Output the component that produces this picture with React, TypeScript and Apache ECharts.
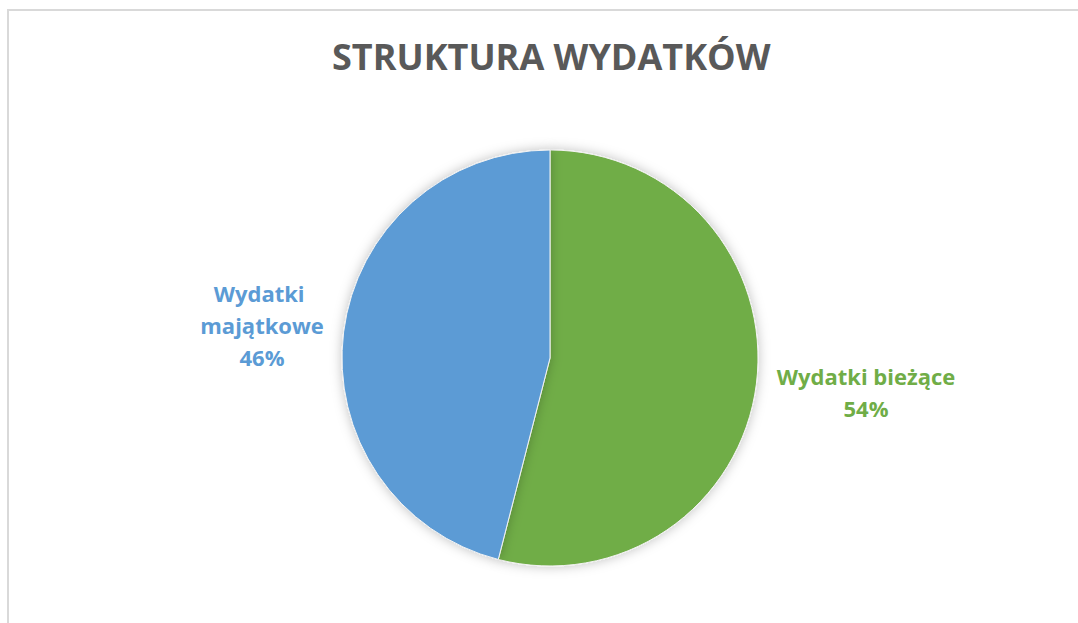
import React, { useEffect, useRef } from "react";
import * as echarts from "echarts";

const titleText = "STRUKTURA WYDATKÓW";
const categories = ["Wydatki bieżące", "Wydatki majątkowe"];
const values = [54, 46];
const colors = ["#70ad47", "#5b9bd5"];
const labelWidths = [230, 150];
const labelCenters = [[866, 392], [262, 325]];

export default function App() {
  const ref = useRef<HTMLDivElement>(null);
  useEffect(() => {
    if (!ref.current) return;
    const chart = echarts.init(ref.current, undefined, { renderer: "svg" });
    chart.setOption({
      animation: false,
      backgroundColor: "#ffffff",
      title: {
        text: titleText,
        left: 327,
        top: 33,
        textStyle: {
          fontFamily: "Open Sans",
          fontWeight: "bold",
          fontSize: 36,
          color: "#595959",
        },
      },
      graphic: [
        {
          type: "rect",
          shape: { x: 8, y: 10, width: 1200, height: 800 },
          style: { fill: "none", stroke: "#d9d9d9", lineWidth: 2 },
          silent: true,
        },
      ],
      series: [
        {
          type: "pie",
          center: [550, 358],
          radius: [0, 208],
          startAngle: 90,
          clockwise: true,
          itemStyle: {
            borderColor: "#f2f2f2",
            borderWidth: 1,
            shadowBlur: 12,
            shadowColor: "rgba(0,0,0,0.25)",
          },
          label: {
            show: true,
            position: "outside",
            fontFamily: "Open Sans",
            fontWeight: "bold",
            fontSize: 22,
            lineHeight: 32,
            align: "center",
            formatter: (p: any) => `${p.name}\n${Math.round(p.percent)}%`,
          },
          labelLine: { show: false },
          labelLayout: (p: any) => ({
            x: labelCenters[p.dataIndex][0],
            y: labelCenters[p.dataIndex][1],
            align: "center",
            verticalAlign: "middle",
          }),
          data: categories.map((name, i) => ({
            name,
            value: values[i],
            itemStyle: { color: colors[i] },
            label: { color: colors[i], width: labelWidths[i], overflow: "break" },
          })),
        },
      ],
    });
    return () => chart.dispose();
  }, []);
  return (
    <div
      ref={ref}
      style={{ position: "absolute", left: 0, top: 0, width: 1078, height: 623 }}
    />
  );
}
